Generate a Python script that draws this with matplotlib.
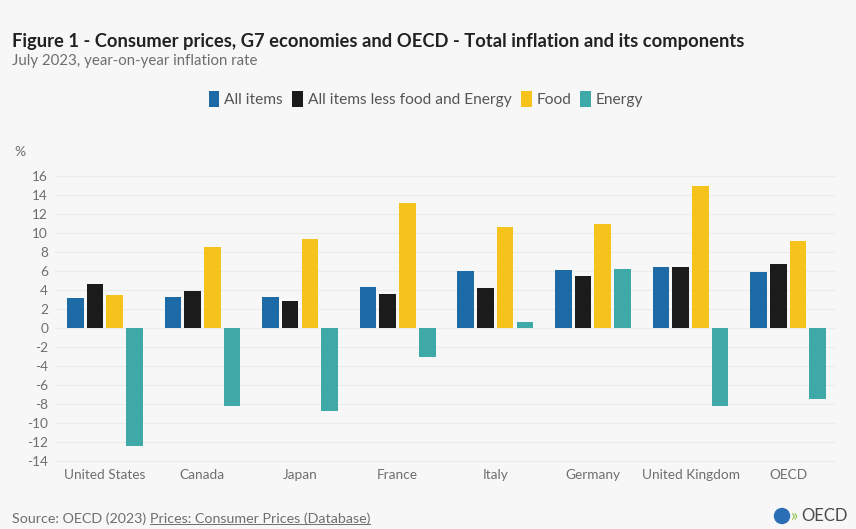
import matplotlib.pyplot as plt
import numpy as np
from matplotlib.patches import Patch, Ellipse

# Data (July 2023, year-on-year inflation rate, %)
countries = ["United States", "Canada", "Japan", "France", "Italy",
             "Germany", "United Kingdom", "OECD"]
all_items = [3.2, 3.3, 3.3, 4.3, 6.0, 6.1, 6.4, 5.9]
core_items = [4.6, 3.85, 2.8, 3.6, 4.2, 5.5, 6.4, 6.7]
food = [3.5, 8.5, 9.35, 13.2, 10.6, 10.9, 14.9, 9.2]
energy = [-12.4, -8.2, -8.7, -3.0, 0.6, 6.2, -8.2, -7.5]

series_names = ["All items", "All items less food and Energy", "Food", "Energy"]
y_ticks = list(range(-14, 17, 2))

colors = ["#1c6aa6", "#1b1b1b", "#f6c31c", "#3fa9a8"]
bg = "#f7f7f7"
grey_txt = "#6e6e6e"

plt.rcParams["font.family"] = ["Lato", "DejaVu Sans"]

W, H = 856, 529
fig = plt.figure(figsize=(W / 100, H / 100), dpi=100, facecolor=bg)

# axes placed in pixel coords
ax_left, ax_right, ax_top, ax_bot = 55, 835, 172.2, 466.7
ax = fig.add_axes([ax_left / W, 1 - ax_bot / H,
                   (ax_right - ax_left) / W, (ax_bot - ax_top) / H])
ax.set_facecolor(bg)

x = np.arange(len(countries))
step = 0.202
width = 0.17
for i, (vals, name) in enumerate(zip([all_items, core_items, food, energy], series_names)):
    ax.bar(x + (i - 1.5) * step, vals, width=width, color=colors[i], label=name, zorder=3)

ax.set_xlim(-0.51, 7.48)
ax.set_ylim(-14.6, 16.4)
ax.set_yticks(y_ticks)
ax.set_yticklabels([str(t) for t in y_ticks], color=grey_txt, fontsize=9.8)
ax.set_xticks(x)
ax.set_xticklabels(countries, color=grey_txt, fontsize=9.8)
ax.tick_params(axis="both", length=0)
ax.tick_params(axis="x", pad=2)
ax.tick_params(axis="y", pad=5)
ax.grid(axis="y", color="#ebebeb", linewidth=0.8, zorder=0)
for s in ax.spines.values():
    s.set_visible(False)

# titles
fig.text(12 / W, 1 - 42 / H, "Figure 1 - Consumer prices, G7 economies and OECD - Total inflation and its components",
         fontsize=13.2, fontweight="bold", color="#222222", va="center", ha="left")
fig.text(12 / W, 1 - 61 / H, "July 2023, year-on-year inflation rate",
         fontsize=10.8, color=grey_txt, va="center", ha="left")
fig.text(14 / W, 1 - 152 / H, "%", fontsize=10, color=grey_txt, va="center", ha="left")

# legend
handles = [Patch(facecolor=c, edgecolor="none") for c in colors]
fig.legend(handles, series_names, loc="center", bbox_to_anchor=(426 / W, 1 - 99 / H),
           ncol=4, frameon=False, fontsize=11.2, handlelength=0.7, handleheight=1.2,
           handletextpad=0.3, columnspacing=0.6, labelcolor="#555555")

# source line
t1 = fig.text(12 / W, 1 - 519 / H, "Source: OECD (2023) ", fontsize=10.3, color=grey_txt,
              va="center", ha="left")
fig.canvas.draw()
bb = t1.get_window_extent()
t2 = fig.text(bb.x1 / W, 1 - 519 / H, "Prices: Consumer Prices (Database)", fontsize=10.3,
              color=grey_txt, va="center", ha="left")
fig.canvas.draw()
e2 = t2.get_window_extent()
fig.add_artist(plt.Line2D([e2.x0 / W, e2.x1 / W], [(e2.y0 + 1) / H, (e2.y0 + 1) / H],
                          transform=fig.transFigure, color=grey_txt, linewidth=0.7))

# OECD logo (approximation)
fig.add_artist(Ellipse((782 / W, 1 - 516 / H), 15 / W, 15 / H, transform=fig.transFigure,
                       color="#2a6fb5"))
fig.text(791 / W, 1 - 516 / H, "\u00bb", fontsize=12, color="#8bbf3f", va="center", ha="left")
fig.text(801 / W, 1 - 516 / H, "OECD", fontsize=12, color="#4a4a4a", va="center", ha="left")

fig.savefig("out.png", dpi=100, facecolor=bg)
